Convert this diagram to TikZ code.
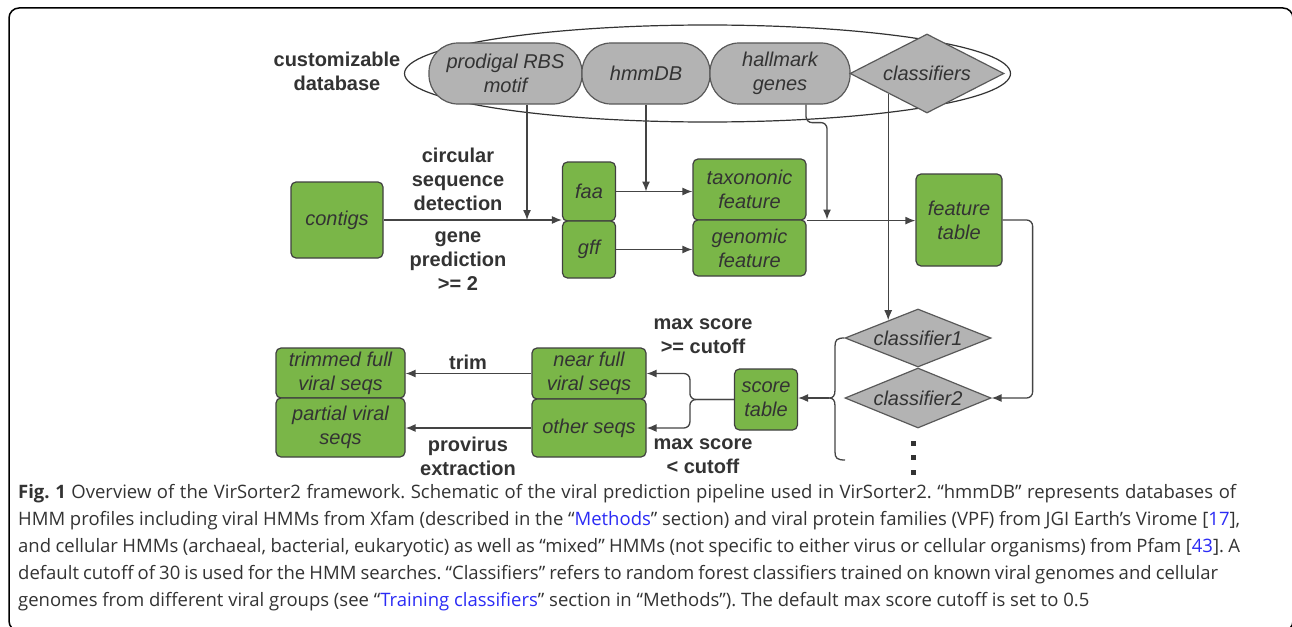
\documentclass[tikz,border=0pt]{standalone}
\usepackage{fontspec}
\setmainfont{Liberation Sans}
\newfontfamily\capfont{Open Sans}
\usetikzlibrary{arrows.meta,shapes.geometric}
\definecolor{gfill}{HTML}{7AB648}
\definecolor{gyfill}{HTML}{B3B3B3}
\definecolor{txt}{HTML}{333333}
\definecolor{ln}{HTML}{444444}
\definecolor{lnk}{HTML}{2B2BF5}
\frenchspacing
\begin{document}
\begin{tikzpicture}[x=1pt,y=-1pt,
  nfont/.style={font=\fontsize{20}{24}\selectfont\itshape},
  box/.style={draw=black!75, fill=gfill, line width=1.2pt, rounded corners=5pt, text=txt, nfont, align=center, inner sep=0pt},
  pill/.style={draw=black!65, fill=gyfill, line width=1.2pt, rounded corners=29pt, text=txt, nfont, align=center, inner sep=0pt, minimum height=61pt},
  dia/.style={diamond, draw=black!65, fill=gyfill, line width=1.2pt, text=txt, nfont, inner sep=0pt},
  lbl/.style={font=\fontsize{20}{24}\selectfont\bfseries, text=txt, align=center, inner sep=0pt},
  arr/.style={draw=ln, line width=1.3pt, -{Latex[length=10pt,width=8pt]}},
  capline/.style={anchor=base west, inner sep=0pt, text=txt, font=\capfont\fontsize{18.5}{27}\selectfont},
]
\useasboundingbox (0,0) rectangle (1292,626);
\clip (0,0) rectangle (1292,626);
\fill[white] (0,0) rectangle (1292,626);
% frame
\draw[line width=1.5pt, rounded corners=10pt] (9,8) rectangle (1293,631);

% customizable database
\node[ellipse, draw=black!80, line width=1.2pt, minimum width=606pt, minimum height=97pt, inner sep=0pt] (db) at (707.5,73.5) {};
\node[lbl] (dblbl) at (337,71) {customizable\\database};
\node[pill, minimum width=153pt] (prodigal) at (505.5,73.5) {prodigal RBS\\motif};
\node[pill, minimum width=128pt] (hmmdb) at (646,73.5) {hmmDB};
\node[pill, minimum width=140pt] (hallmark) at (780,73.5) {hallmark\\genes};
\node[dia, shape aspect=1.95, minimum width=154pt, minimum height=79pt] (classifiers) at (927,73.5) {classifiers};

% middle row
\node[box, minimum width=92pt, minimum height=76pt] (contigs) at (337,220) {contigs};
\node[box, minimum width=53pt, minimum height=59pt] (faa) at (589,191.5) {faa};
\node[box, minimum width=53pt, minimum height=57pt] (gff) at (589,249.5) {gff};
\node[box, minimum width=113pt, minimum height=61pt] (tax) at (749.5,189.5) {taxononic\\feature};
\node[box, minimum width=113pt, minimum height=56pt] (gen) at (749.5,248) {genomic\\feature};
\node[box, minimum width=86pt, minimum height=92pt] (feat) at (959,220) {feature\\table};

\node[lbl] (circ) at (458,179) {circular\\sequence\\detection};
\node[lbl] (genepred) at (458,261) {gene\\prediction\\>= 2};

% classifiers
\node[dia, shape aspect=2.5, minimum width=146pt, minimum height=58pt] (cls1) at (918,338) {classifier1};
\node[dia, shape aspect=2.5, minimum width=146pt, minimum height=60pt] (cls2) at (918,398) {classifier2};
\draw[ln, line width=1.3pt] (cls1.west) .. controls (837,338) and (835,340) .. (835,346) -- (835,390)
  .. controls (835,396) and (833,398) .. (829,398) .. controls (833,398) and (835,400) .. (835,406)
  -- (835,452) .. controls (835,458) and (837,460) .. (845,460);
\coordinate (bt) at (829,398);
\foreach \yy in {443,457.5,472} \fill[txt] (910.5,\yy-2.5) rectangle (915.5,\yy+2.5);

% bottom row
\node[box, minimum width=63pt, minimum height=61pt] (score) at (766,399.5) {score\\table};
\node[box, minimum width=114pt, minimum height=51pt] (near) at (589,373.5) {near full\\viral seqs};
\node[box, minimum width=114pt, minimum height=58pt] (other) at (589,428) {other seqs};
\node[box, minimum width=129pt, minimum height=50pt] (trimmed) at (340.5,373) {trimmed full\\viral seqs};
\node[box, minimum width=129pt, minimum height=59pt] (partial) at (340.5,427.5) {partial viral\\seqs};

\node[lbl] (trimlbl) at (468,362) {trim};
\node[lbl] (provlbl) at (468,456) {provirus\\extraction};
\node[lbl] (maxge) at (703,336) {max score\\>= cutoff};
\node[lbl] (maxlt) at (703,456) {max score\\< cutoff};

% connectors
\coordinate (j1) at (527,220);
\coordinate (j2) at (827,219.5);
\draw[arr] (contigs.east) -- (contigs.east -| faa.west);
\draw[arr] (prodigal.south -| j1) -- (j1);
\draw[arr] (hmmdb.south) -- (hmmdb.south |- faa.east);
\draw[arr] (faa.east) -- (faa.east -| tax.west);
\draw[arr] (gff.east) -- (gff.east -| gen.west);
\draw[arr] (tax.south east) -- (tax.south east -| feat.west);
\draw[arr, rounded corners=6pt] ([xshift=26pt]hallmark.south) -- ++(0,18) -| (j2);
\draw[arr, shorten >=3pt] (classifiers.south west) -- (classifiers.south west |- cls1.north west);
\draw[arr, rounded corners=6pt] (feat.east) -| ([xshift=41pt]cls2.east) -- (cls2.east);
\draw[arr] (bt) -- (bt -| score.east);
\draw[arr, rounded corners=6pt] (score.west) -- ++(-44,0) |- (near.east);
\draw[arr, rounded corners=6pt] (score.west) -- ++(-44,0) |- (other.east);
\draw[arr] (near.west) -- (near.west -| trimmed.east);
\draw[arr] (other.west) -- (other.west -| partial.east);

% caption
\node[capline] (cap1) at (18,498) {\hbox to 1218pt{\textbf{Fig. 1} Overview of the VirSorter2 framework. Schematic of the viral prediction pipeline used in VirSorter2. “hmmDB” represents databases of}};
\node[capline] (cap2) at (18,525) {\hbox to 1222pt{HMM profiles including viral HMMs from Xfam (described in the “\textcolor{lnk}{Methods}” section) and viral protein families (VPF) from JGI Earth’s Virome [\textcolor{lnk}{17}],}};
\node[capline] (cap3) at (18,552) {\hbox to 1222pt{and cellular HMMs (archaeal, bacterial, eukaryotic) as well as “mixed” HMMs (not specific to either virus or cellular organisms) from Pfam [\textcolor{lnk}{43}]. A}};
\node[capline] (cap4) at (18,579) {\hbox to 1200pt{default cutoff of 30 is used for the HMM searches. “Classifiers” refers to random forest classifiers trained on known viral genomes and cellular}};
\node[capline] (cap5) at (18,606) {genomes from different viral groups (see “\textcolor{lnk}{Training classifiers}” section in “Methods”). The default max score cutoff is set to 0.5};
\end{tikzpicture}
\end{document}
